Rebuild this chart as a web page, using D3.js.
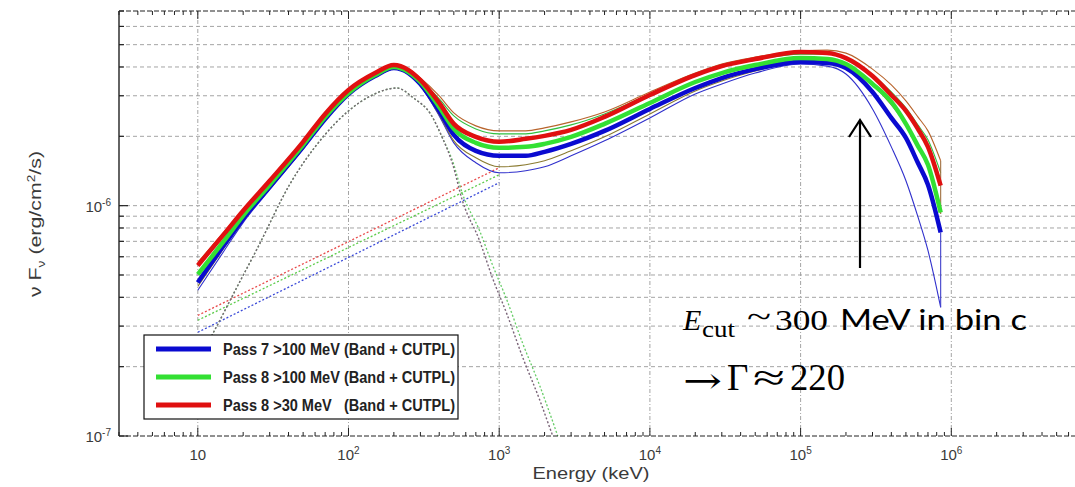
<!DOCTYPE html>
<html><head><meta charset="utf-8">
<script src="https://cdn.jsdelivr.net/npm/d3@7"></script>
<style>body{margin:0;background:#fff} svg{display:block}</style>
</head><body><svg id="c" width="1075" height="487"></svg>
<script>
const energy = [10, 15, 20, 30, 50, 70, 100, 150, 200, 250, 300, 400, 500, 700, 1000, 1500, 2000, 3000, 5000, 1e4, 2e4, 3e4, 5e4, 1e5, 1.5e5, 2e5, 3e5, 4e5, 5e5, 6e5, 7e5, 8.5e5];
// nuFnu in units of 1e-6 erg/cm^2/s
const pass8_30 = [0.550,0.756,0.951,1.283,1.893,2.502,3.178,3.765,4.077,3.879,3.512,2.792,2.265,1.989,1.893,1.950,2.009,2.133,2.428,3.023,3.690,4.036,4.329,4.642,4.595,4.372,3.653,3.023,2.578,2.154,1.800,1.221];
const pass8_100 = [0.503,0.706,0.905,1.233,1.837,2.428,3.084,3.690,3.996,3.803,3.442,2.683,2.154,1.874,1.783,1.800,1.855,1.989,2.265,2.792,3.442,3.765,4.077,4.372,4.329,4.119,3.375,2.820,2.265,1.819,1.505,0.933];
const pass7_100 = [0.464,0.678,0.879,1.208,1.800,2.380,3.053,3.653,3.957,3.765,3.375,2.578,2.029,1.730,1.646,1.646,1.713,1.855,2.112,2.630,3.242,3.582,3.917,4.201,4.159,3.957,3.115,2.404,1.969,1.535,1.233,0.764];
// thin error-envelope curves
const envUpperBrown = [0.567,0.772,0.961,1.296,1.912,2.526,3.210,3.803,4.119,3.917,3.582,2.993,2.526,2.220,2.112,2.112,2.176,2.310,2.552,3.115,3.765,4.119,4.416,4.688,4.735,4.595,3.917,3.342,2.848,2.428,2.112,1.566];
const envUpperGreen = [0.556,0.764,0.951,1.283,1.893,2.502,3.178,3.765,4.077,3.879,3.512,2.905,2.453,2.154,2.050,2.050,2.112,2.242,2.502,3.053,3.653,3.996,4.286,4.550,4.550,4.372,3.690,3.115,2.657,2.242,1.931,1.389];
const envLowerOlive = [0.446,0.658,0.861,1.197,1.783,2.356,3.023,3.617,3.917,3.728,3.308,2.477,1.912,1.614,1.475,1.505,1.566,1.730,1.989,2.502,3.147,3.477,3.840,4.243,4.243,4.077,3.342,2.737,2.242,1.800,1.475,0.923];
const envLowerBlue = [0.429,0.639,0.844,1.173,1.765,2.356,3.023,3.617,3.917,3.728,3.308,2.453,1.874,1.535,1.389,1.418,1.475,1.646,1.912,2.404,3.053,3.375,3.765,4.119,4.036,3.728,2.630,1.800,1.283,0.896,0.639,0.362];
// closing segments of the envelopes at the last energy
const capEnergy = [8.5e5, 8.5e5];
const capBrown = [1.566, 0.923];
const capBlue = [0.764, 0.362];
// Band component (dotted)
const bandEnergy = [10, 12.6, 18, 25, 41, 67, 100, 140, 210, 270, 350, 420, 490, 570, 740, 900, 1120, 1430, 1860, 2230, 2500];
const bandA = [0.213,0.279,0.437,0.658,1.245,1.969,2.578,2.993,3.242,2.934,2.502,1.969,1.520,1.051,0.706,0.488,0.341,0.220,0.143,0.103,0.084];
const bandB = [0.213,0.279,0.437,0.658,1.245,1.969,2.578,2.993,3.242,2.934,2.502,1.969,1.566,1.127,0.780,0.556,0.392,0.253,0.165,0.119,0.096];
// CUTPL component (dotted)
const cutplEnergy = [10, 100, 1000];
const cutplRed = [0.334, 0.698, 1.461];
const cutplGreen = [0.318, 0.658, 1.362];
const cutplBlue = [0.282, 0.596, 1.258];
// axes
const xDecades = [1, 2, 3, 4, 5, 6, 7];
const xLabelDecades = [1, 2, 3, 4, 5, 6];
const yDecades = [-7, -6];
const legendLabels = ["Pass 7 >100 MeV (Band + CUTPL)", "Pass 8 >100 MeV (Band + CUTPL)", "Pass 8 >30 MeV   (Band + CUTPL)"];
const legendColors = ["#0a0ad0", "#33e033", "#e01010"];

const svg = d3.select("#c");
const L = 119, R = 1102, T = 11, B = 436;
const x = d3.scaleLog().domain([3, 1e7]).range([L, R]);
const y = d3.scaleLog().domain([0.1, 7]).range([B, T]);

// grid
const g = svg.append("g");
const yMinor = [];
for (let d = 0.1; d < 7.5; d *= 10) for (let m = 1; m <= 9; m++) { const v = +(m * d).toPrecision(3); if (v > 0.1 && v < 7) yMinor.push(v); }
g.selectAll(".hg").data(yMinor).join("line").attr("x1", L).attr("x2", R).attr("y1", d => y(d)).attr("y2", d => y(d))
  .attr("stroke", "#9a9a9a").attr("stroke-width", 0.9).attr("stroke-dasharray", "4,3");
g.selectAll(".vg").data(xDecades).join("line").attr("x1", d => x(10 ** d)).attr("x2", d => x(10 ** d)).attr("y1", T).attr("y2", B)
  .attr("stroke", "#9a9a9a").attr("stroke-width", 0.9).attr("stroke-dasharray", "4,2,1,2");

// curves
const clip = svg.append("clipPath").attr("id", "pc").append("rect").attr("x", L).attr("y", T).attr("width", R - L).attr("height", B - T);
const plot = svg.append("g").attr("clip-path", "url(#pc)");
const line = d3.line().x(d => x(d[0])).y(d => y(d[1])).curve(d3.curveMonotoneX);
const lineLin = d3.line().x(d => x(d[0])).y(d => y(d[1]));
function draw(E, V, color, w, dash, gen) {
  plot.append("path").attr("d", (gen || line)(E.map((e, i) => [e, V[i]])))
    .attr("fill", "none").attr("stroke", color).attr("stroke-width", w)
    .attr("stroke-dasharray", dash || null).attr("stroke-linejoin", "round");
}
draw(cutplEnergy, cutplRed, "#e84a4a", 1.3, "2,2", lineLin);
draw(cutplEnergy, cutplGreen, "#5ccc4a", 1.3, "2,2", lineLin);
draw(cutplEnergy, cutplBlue, "#3a4ad8", 1.3, "2,2", lineLin);
draw(bandEnergy, bandB, "#66cc66", 1.3, "2,2");
draw(bandEnergy, bandA, "#7a6478", 1.4, "2,2");

draw(energy, envLowerBlue, "#3030cc", 1.1);
draw(energy, envLowerOlive, "#8a7a30", 1.1);
draw(energy, envUpperGreen, "#30c040", 1.1);
draw(energy, envUpperBrown, "#b8642c", 1.1);
draw(capEnergy, capBrown, "#a07040", 1.1, null, lineLin);
draw(capEnergy, capBlue, "#4040cc", 1.1, null, lineLin);
draw(energy, pass7_100, legendColors[0], 4.5);
draw(energy, pass8_100, legendColors[1], 4.5);
draw(energy, pass8_30, legendColors[2], 4.5);

// axes frame and ticks
const ax = svg.append("g").attr("stroke", "#222");
ax.append("line").attr("x1", L).attr("x2", R).attr("y1", T).attr("y2", T).attr("stroke-width", 1).attr("stroke-dasharray", "5,2");
ax.append("line").attr("x1", L).attr("x2", R).attr("y1", B).attr("y2", B).attr("stroke-width", 1).attr("stroke-dasharray", "5,2");
ax.append("line").attr("x1", L).attr("x2", L).attr("y1", T).attr("y2", B).attr("stroke-width", 1.4);
const xTicks = [];
for (let k = 0; k <= 7; k++) for (let m = 1; m <= 9; m++) { const v = m * 10 ** k; if (v >= 3 && v <= 1e7) xTicks.push({ v, major: m === 1 }); }
ax.selectAll(".xb").data(xTicks).join("line").attr("x1", d => x(d.v)).attr("x2", d => x(d.v))
  .attr("y1", B).attr("y2", d => B - (d.major ? 8 : 4)).attr("stroke-width", 1);
ax.selectAll(".xt").data(xTicks).join("line").attr("x1", d => x(d.v)).attr("x2", d => x(d.v))
  .attr("y1", T).attr("y2", d => T + (d.major ? 8 : 4)).attr("stroke-width", 1);
const yTicks = [];
for (let k = -1; k <= 0; k++) for (let m = 1; m <= 9; m++) { const v = +(m * 10 ** k).toPrecision(3); if (v >= 0.1 && v <= 7) yTicks.push({ v, major: m === 1 }); }
ax.selectAll(".yl").data(yTicks).join("line").attr("x1", L).attr("x2", d => L + (d.major ? 9 : 5))
  .attr("y1", d => y(d.v)).attr("y2", d => y(d.v)).attr("stroke-width", 1.2);

// tick labels
const lab = svg.append("g").attr("font-family", "Liberation Sans, Arial, sans-serif").attr("fill", "#3a3a3a");
xLabelDecades.forEach(k => {
  const t = lab.append("text").attr("x", x(10 ** k)).attr("y", 460).attr("font-size", 15).attr("text-anchor", "middle");
  t.append("tspan").text("10");
  if (k > 1) t.append("tspan").attr("dy", -6).attr("font-size", 10).text(k);
});
yDecades.forEach(k => {
  const t = lab.append("text").attr("x", 111).attr("y", y(10 ** (k + 6)) + 6).attr("font-size", 15).attr("text-anchor", "end");
  t.append("tspan").text("10");
  t.append("tspan").attr("dy", -6).attr("font-size", 10).text(k);
});
lab.append("text").attr("x", 591).attr("y", 479).attr("font-size", 17).attr("text-anchor", "middle")
  .attr("textLength", 117).attr("lengthAdjust", "spacingAndGlyphs").text("Energy (keV)");
const yl = lab.append("text").attr("transform", "translate(41,224) rotate(-90)").attr("font-size", 17).attr("text-anchor", "middle")
  .attr("textLength", 146).attr("lengthAdjust", "spacingAndGlyphs");
yl.append("tspan").text("ν F");
yl.append("tspan").attr("dy", 4).attr("font-size", 11).text("ν");
yl.append("tspan").attr("dy", -4).text(" (erg/cm");
yl.append("tspan").attr("dy", -6).attr("font-size", 11).text("2");
yl.append("tspan").attr("dy", 6).text("/s)");

// legend
const lg = svg.append("g");
lg.append("rect").attr("x", 144).attr("y", 335).attr("width", 314).attr("height", 84).attr("fill", "#fff").attr("stroke", "#111").attr("stroke-width", 1.2);
legendLabels.forEach((s, i) => {
  const yy = 349 + i * 28;
  lg.append("line").attr("x1", 156).attr("x2", 211).attr("y1", yy).attr("y2", yy).attr("stroke", legendColors[i]).attr("stroke-width", 5);
  lg.append("text").attr("x", 223).attr("y", yy + 5.5).attr("font-family", "Liberation Sans, Arial, sans-serif")
    .attr("font-weight", "bold").attr("font-size", 16).attr("fill", "#222").attr("xml:space", "preserve")
    .style("white-space", "pre").attr("textLength", 232).attr("lengthAdjust", "spacingAndGlyphs").text(s);
});

// annotation
const an = svg.append("g");
an.append("line").attr("x1", 860).attr("x2", 860).attr("y1", 268).attr("y2", 121).attr("stroke", "#000").attr("stroke-width", 2.2);
an.append("path").attr("d", "M849,137 L860,120 L871,137").attr("fill", "none").attr("stroke", "#000").attr("stroke-width", 2.2);
const serif = "Liberation Serif, Times New Roman, serif";
an.append("text").attr("x", 683).attr("y", 330).attr("font-family", serif).attr("font-style", "italic").attr("font-size", 30).text("E");
an.append("text").attr("x", 702).attr("y", 337).attr("font-family", serif).attr("font-size", 24).attr("textLength", 33).attr("lengthAdjust", "spacingAndGlyphs").text("cut");
an.append("text").attr("x", 747).attr("y", 327).attr("font-family", serif).attr("font-size", 30).attr("textLength", 24).attr("lengthAdjust", "spacingAndGlyphs").text("~");
an.append("text").attr("x", 775).attr("y", 330).attr("font-family", serif).attr("font-size", 30).attr("textLength", 53).attr("lengthAdjust", "spacingAndGlyphs").text("300");
an.append("text").attr("x", 840).attr("y", 330).attr("font-family", "Lato, Open Sans, sans-serif").attr("font-size", 28).attr("textLength", 187).attr("lengthAdjust", "spacingAndGlyphs").text("MeV in bin c");
an.append("text").attr("x", 683).attr("y", 393).attr("font-family", "DejaVu Serif, serif").attr("font-size", 36).attr("textLength", 39).attr("lengthAdjust", "spacingAndGlyphs").text("→");
an.append("text").attr("x", 727).attr("y", 390).attr("font-family", serif).attr("font-size", 37).text("Γ");
an.append("text").attr("x", 753).attr("y", 390).attr("font-family", serif).attr("font-size", 37).attr("textLength", 32).attr("lengthAdjust", "spacingAndGlyphs").text("≈");
an.append("text").attr("x", 790).attr("y", 390).attr("font-family", serif).attr("font-size", 37).attr("textLength", 55).attr("lengthAdjust", "spacingAndGlyphs").text("220");
</script></body></html>
